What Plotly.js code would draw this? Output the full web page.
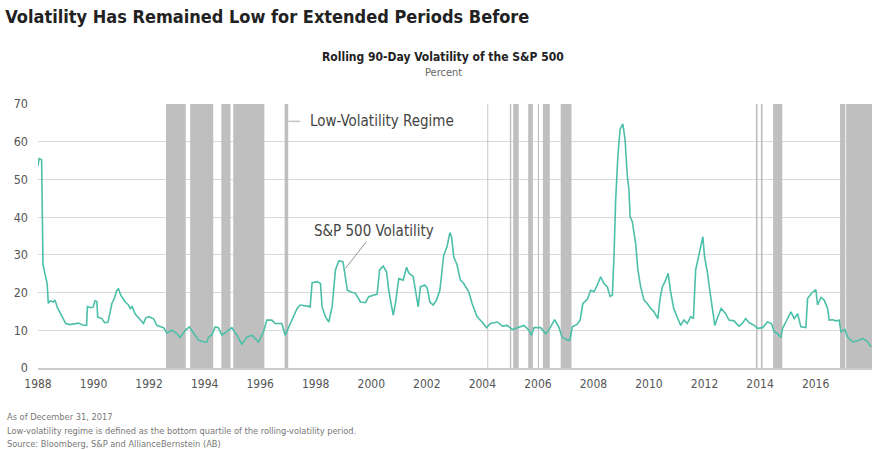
<!DOCTYPE html>
<html>
<head>
<meta charset="utf-8">
<script src="https://cdn.plot.ly/plotly-3.0.1.min.js"></script>
<style>
html,body{margin:0;padding:0;background:#fff;}
#chart{width:880px;height:450px;}
</style>
</head>
<body>
<div id="chart"></div>
<script>
// Rolling 90-day volatility of the S&P 500 (percent)
var volYears = [
1988.00,1988.04,1988.13,1988.16,1988.18,1988.25,1988.33,1988.37,1988.45,1988.55,1988.61,1988.70,1988.80,1988.90,
1989.00,1989.15,1989.30,1989.45,1989.60,1989.75,1989.78,1989.90,1989.99,
1990.05,1990.12,1990.15,1990.30,1990.40,1990.52,1990.60,1990.66,1990.75,1990.84,1990.90,1990.98,
1991.14,1991.25,1991.32,1991.38,1991.50,1991.60,1991.68,1991.80,1991.88,
1992.00,1992.10,1992.16,1992.28,1992.40,1992.52,1992.64,1992.75,1992.82,
1993.00,1993.12,1993.30,1993.45,1993.60,1993.78,1993.96,
1994.08,1994.14,1994.25,1994.38,1994.50,1994.62,1994.80,1994.98,
1995.16,1995.34,1995.52,1995.70,1995.82,1995.94,
1996.12,1996.24,1996.42,1996.54,1996.78,1996.90,1996.98,
1997.10,1997.20,1997.33,1997.44,1997.60,1997.69,1997.80,1997.87,
1998.05,1998.17,1998.23,1998.35,1998.47,1998.59,1998.71,1998.83,1998.98,
1999.07,1999.14,1999.25,1999.43,1999.61,1999.79,1999.91,
2000.09,2000.21,2000.30,2000.43,2000.55,2000.63,2000.79,2000.87,2000.99,
2001.15,2001.27,2001.35,2001.51,2001.60,2001.69,2001.77,2001.92,
2002.01,2002.11,2002.23,2002.35,2002.47,2002.61,2002.73,2002.83,2002.89,2002.97,
2003.09,2003.21,2003.33,2003.51,2003.63,2003.81,2003.99,
2004.15,2004.29,2004.54,2004.72,2004.90,
2005.08,2005.26,2005.50,2005.68,2005.76,2005.86,
2006.10,2006.28,2006.43,2006.60,2006.75,2006.87,
2007.06,2007.15,2007.24,2007.40,2007.52,2007.62,2007.78,2007.90,
2008.02,2008.14,2008.26,2008.38,2008.50,2008.60,2008.68,2008.74,2008.80,2008.88,2008.96,
2009.06,2009.14,2009.22,2009.28,2009.32,2009.40,2009.52,2009.60,2009.70,2009.82,2009.94,
2010.06,2010.18,2010.32,2010.39,2010.48,2010.60,2010.69,2010.77,2010.89,
2011.01,2011.14,2011.26,2011.38,2011.50,2011.60,2011.68,2011.80,2011.89,2011.94,
2012.00,2012.10,2012.19,2012.28,2012.37,2012.48,2012.60,2012.76,2012.88,
2013.06,2013.24,2013.36,2013.48,2013.61,2013.79,2013.91,
2014.09,2014.27,2014.41,2014.51,2014.63,2014.75,2014.81,2014.93,
2015.11,2015.23,2015.35,2015.47,2015.65,2015.71,2015.86,
2016.01,2016.07,2016.19,2016.31,2016.43,2016.49,2016.61,2016.73,2016.85,2016.91,
2017.05,2017.15,2017.33,2017.51,2017.69,2017.84,2018.00
];
var volValues = [
53.5,55.5,55.2,30,27.5,25,22.4,17.2,17.8,17.5,18,16,14.5,13,
11.8,11.5,11.6,11.9,11.4,11.3,16.3,16,16.2,
17.8,17.6,13.5,13.1,12,12.1,14.5,17.1,18.5,20.6,21,19.3,
17.5,16.8,15.8,16.4,14.3,13.5,12.7,11.8,13.3,
13.6,13.2,13.1,11.3,11,10.7,9.3,9.8,10,
9.1,8.1,10,10.9,9.3,7.4,6.9,
6.9,8.2,8.7,10.9,10.7,8.7,9.8,10.7,
8.7,6.3,8.2,8.7,7.8,6.9,
9.6,12.7,12.7,11.8,11.8,8.7,10,
12,13.6,15.8,16.7,16.6,16.4,16.2,22.6,
22.9,22.4,16.2,13.6,12.2,16.2,26,28.4,28.2,
24.2,20.6,20.2,19.8,17.5,17.3,18.9,
19.3,19.6,26,27,25.5,20.6,14,17.1,23.7,
23.3,26.7,25.2,24.2,20.6,16.2,21.5,22,
21.3,17.5,16.7,18,20.6,29.9,32.2,35.9,34.8,29.5,
27.3,23.3,22.4,20.2,17.1,13.6,12.2,
10.7,11.8,12.2,11.1,11.3,
10.2,10.7,11.3,10,8.7,10.7,
10.7,9.1,10.5,12.8,10.9,8.2,
7.4,7.4,10.9,11.5,12.7,17.1,18.2,20.6,
20.2,22,24.2,22.4,21.5,19,19.3,29.5,44.6,56.1,63.3,
64.7,60.5,50.8,47.2,40.1,38.8,33,26,21.5,18,17.1,
15.8,14.9,13.1,18,21.5,23.3,25.1,20.6,15.8,
13.6,11.3,12.7,11.8,13.6,13.1,26,30.4,33,34.8,
29.5,25.5,20.6,15.3,11.3,13.6,15.8,14.4,12.7,
12.5,11.1,11.8,13.1,12,11.3,10.5,
10.7,12.2,11.8,9.6,9.1,8.1,10.5,12.2,
14.9,13.1,14.4,10.9,10.7,18.4,19.9,
20.8,16.7,18.7,18,15.8,12.7,12.8,12.5,12.7,9.6,
10.2,8.2,6.9,7.2,7.8,7.2,5.6
];

// Low-volatility regime periods (start / end, decimal years)
var regimeStart = [1992.61,1993.48,1994.60,1995.03,1996.88,2004.18,2004.99,2005.11,2005.65,2006.00,2006.18,2006.82,2013.85,2014.03,2014.47,2016.88,2017.10];
var regimeEnd   = [1993.32,1994.31,1994.93,1996.15,1997.01,2004.21,2005.04,2005.31,2005.82,2006.04,2006.43,2007.21,2013.91,2014.09,2014.80,2017.07,2018.03];

var tickYears = [1988,1990,1992,1994,1996,1998,2000,2002,2004,2006,2008,2010,2012,2014,2016];
var tickLabels = tickYears.map(String);
var yTicks = [0,10,20,30,40,50,60,70];

var FONT = '"Liberation Sans Narrow", "DejaVu Sans Condensed", "Roboto", sans-serif';

var shapes = regimeStart.map(function(s, i){
  return {type:'rect', xref:'x', yref:'y', x0:s, x1:regimeEnd[i], y0:0, y1:70,
          fillcolor:'#bfbfbf', line:{width:0}, layer:'between'};
});
// leader line for the regime label
shapes.push({type:'line', xref:'x', yref:'y', x0:1997.01, x1:1997.44, y0:65.4, y1:65.4,
             line:{color:'#c4c4c4', width:1.5}, layer:'above'});

var trace = {
  x: volYears, y: volValues, type:'scatter', mode:'lines',
  line:{color:'#4cbfa9', width:1.6}, hoverinfo:'skip', showlegend:false
};

var layout = {
  width:880, height:450,
  margin:{l:38, r:8, t:104, b:82},
  paper_bgcolor:'#fff', plot_bgcolor:'#fff',
  font:{family:FONT, color:'#555'},
  title:{text:'<b>Volatility Has Remained Low for Extended Periods Before</b>',
         xref:'container', yref:'container', x:0.006, y:0.964, xanchor:'left', yanchor:'middle',
         font:{family:FONT, size:18, color:'#222'}},
  xaxis:{range:[1988,2018.03], tickvals:tickYears, ticktext:tickLabels, showgrid:false,
         zeroline:false, showline:true, linecolor:'#cccccc', linewidth:1.5, ticks:'',
         ticklabelstandoff:4, tickfont:{size:12, color:'#555'}, fixedrange:true},
  yaxis:{range:[0,70], tickvals:yTicks, showgrid:true, gridcolor:'#d9d9d9', gridwidth:1,
         zeroline:false, showline:false, ticks:'', ticklabelstandoff:9,
         tickfont:{size:12.5, color:'#555'}, fixedrange:true},
  shapes: shapes,
  annotations:[
    {text:'<b>Rolling 90-Day Volatility of the S&P 500</b>', xref:'paper', yref:'paper',
     x:(443-38)/834, y:(368-57)/264, xanchor:'center', yanchor:'middle', showarrow:false,
     font:{family:FONT, size:12, color:'#222'}},
    {text:'Percent', xref:'paper', yref:'paper', x:(443-38)/834, y:(368-72)/264,
     xanchor:'center', yanchor:'middle', showarrow:false, font:{family:FONT, size:11, color:'#666'}},
    {text:'Low-Volatility Regime', xref:'x', yref:'y', x:1997.73, y:65.4, xanchor:'left', yanchor:'middle',
     showarrow:false, font:{family:FONT, size:15, color:'#444'}},
    {text:'S&P 500 Volatility', xref:'x', yref:'y', x:1999.07, y:26.4, ax:29, ay:-37,
     showarrow:true, arrowhead:0, arrowwidth:0.8, arrowcolor:'#777', standoff:0,
     font:{family:FONT, size:15, color:'#444'}},
    {text:'As of December 31, 2017', xref:'paper', yref:'paper', x:(5-38)/834, y:(368-416)/264,
     xanchor:'left', yanchor:'middle', showarrow:false, font:{family:FONT, size:9.2, color:'#777'}},
    {text:'Low-volatility regime is defined as the bottom quartile of the rolling-volatility period.', xref:'paper', yref:'paper', x:(5-38)/834, y:(368-430)/264,
     xanchor:'left', yanchor:'middle', showarrow:false, font:{family:FONT, size:9.2, color:'#777'}},
    {text:'Source: Bloomberg, S&P and AllianceBernstein (AB)', xref:'paper', yref:'paper', x:(5-38)/834, y:(368-443)/264,
     xanchor:'left', yanchor:'middle', showarrow:false, font:{family:FONT, size:9.2, color:'#777'}}
  ]
};

Plotly.newPlot('chart', [trace], layout, {displayModeBar:false, staticPlot:true});
</script>
</body>
</html>
